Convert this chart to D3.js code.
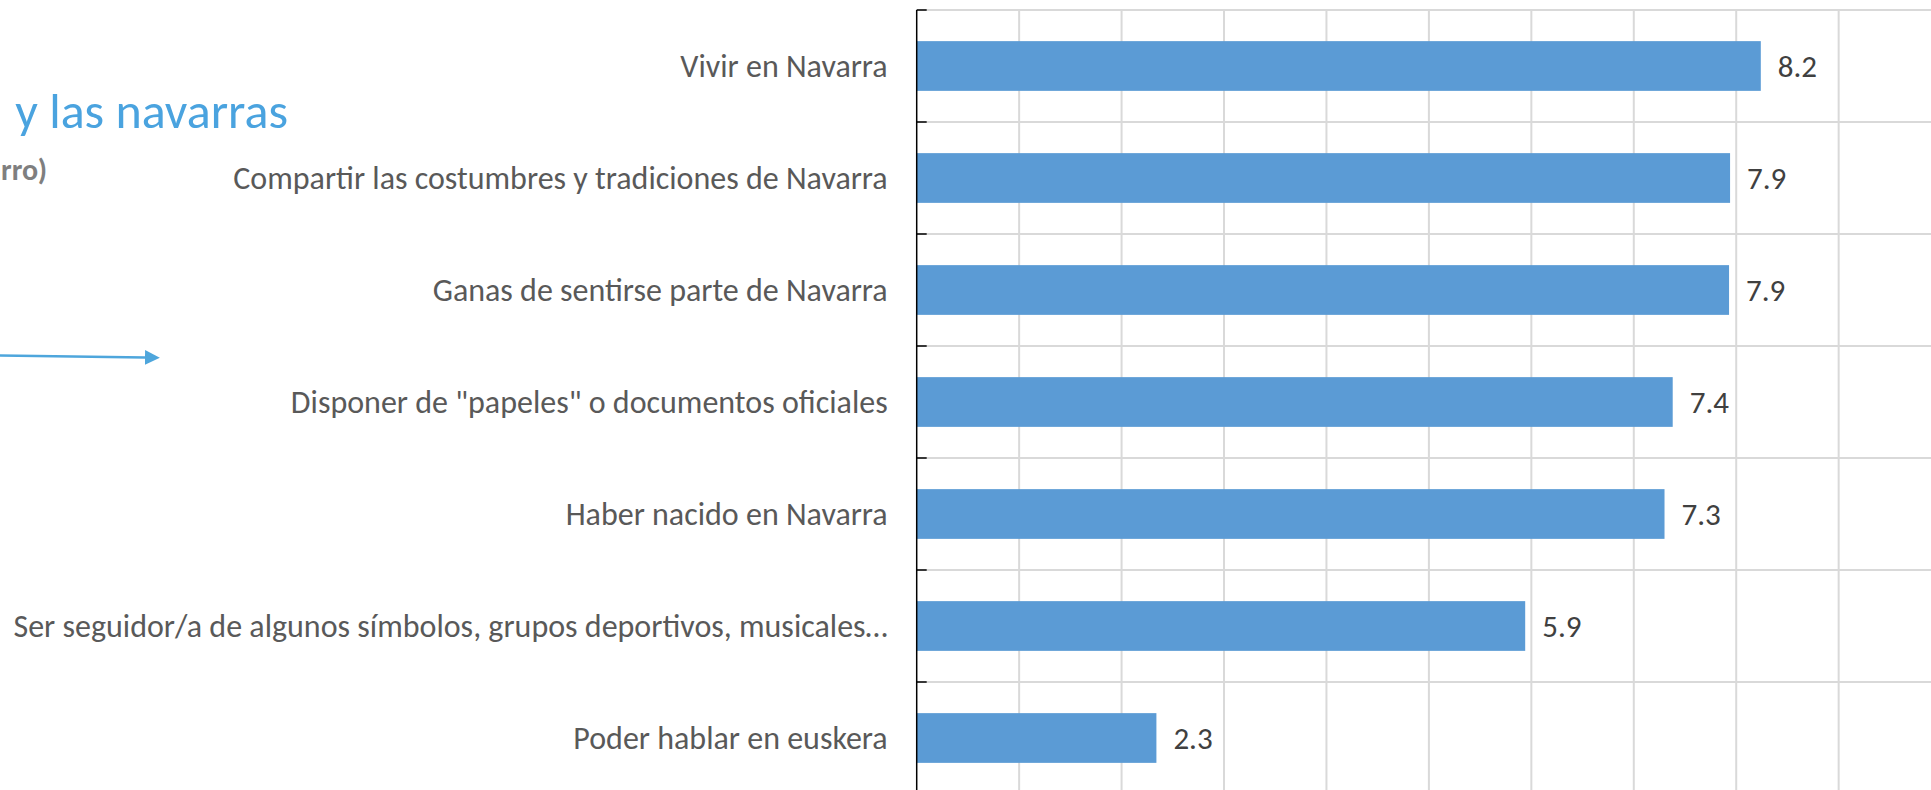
<!DOCTYPE html>
<html>
<head>
<meta charset="utf-8">
<script src="https://cdn.jsdelivr.net/npm/d3@7"></script>
<style>
  html, body { margin: 0; padding: 0; background: #fff; }
  svg { display: block; }
</style>
</head>
<body>
<script>
// ---- data ----
const categories = [
  "Vivir en Navarra",
  "Compartir las costumbres y tradiciones de Navarra",
  "Ganas de sentirse parte de Navarra",
  "Disponer de \"papeles\" o documentos oficiales",
  "Haber nacido en Navarra",
  "Ser seguidor/a de algunos símbolos, grupos deportivos, musicales…",
  "Poder hablar en euskera"
];
const values = [8.24, 7.94, 7.93, 7.38, 7.30, 5.94, 2.34];
const xTicks = [0, 1, 2, 3, 4, 5, 6, 7, 8, 9, 10];
const titleText = "y las navarras";
const subtitleText = "arro)";

// ---- layout ----
const W = 1931, H = 790;
const svg = d3.select("body").append("svg").attr("width", W).attr("height", H);
const FONT = "Calibri, Carlito, Lato, 'Open Sans', sans-serif";

const x = d3.scaleLinear().domain([0, 10]).range([916.7, 916.7 + 1024.4]);
const y = d3.scaleBand().domain(categories).range([10, 794])
  .paddingInner(0.556).paddingOuter(0.278);

// vertical gridlines
svg.append("g").selectAll("line").data(xTicks.filter(d => d > 0)).join("line")
  .attr("x1", d => x(d)).attr("x2", d => x(d))
  .attr("y1", y.range()[0]).attr("y2", y.range()[1])
  .attr("stroke", "#d9d9d9").attr("stroke-width", 2);

// horizontal gridlines at category boundaries
const bounds = d3.range(categories.length + 1).map(i => y.range()[0] + i * y.step());
svg.append("g").selectAll("line").data(bounds).join("line")
  .attr("x1", x(0)).attr("x2", x(10))
  .attr("y1", d => d).attr("y2", d => d)
  .attr("stroke", "#d9d9d9").attr("stroke-width", 2);

// bars
svg.append("g").selectAll("rect").data(values).join("rect")
  .attr("x", x(0))
  .attr("y", (d, i) => y(categories[i]))
  .attr("width", d => x(d) - x(0))
  .attr("height", y.bandwidth())
  .attr("fill", "#5b9bd5");

// value axis line + tick marks
const axisG = svg.append("g");
axisG.append("line")
  .attr("x1", x(0)).attr("x2", x(0))
  .attr("y1", y.range()[0]).attr("y2", y.range()[1])
  .attr("stroke", "#000").attr("stroke-width", 1.5);
axisG.selectAll("line.tick").data(bounds).join("line").attr("class", "tick")
  .attr("x1", x(0)).attr("x2", x(0) + 10)
  .attr("y1", d => d).attr("y2", d => d)
  .attr("stroke", "#000").attr("stroke-width", 1.5);

// category labels
svg.append("g").selectAll("text").data(categories).join("text")
  .attr("x", x(0) - 29)
  .attr("y", d => y(d) + y.bandwidth() / 2)
  .attr("dy", "0.35em")
  .attr("text-anchor", "end")
  .attr("font-family", FONT)
  .attr("font-size", 32)
  .attr("fill", "#595959")
  .text(d => d);

// value labels
const fmt = d3.format(".1f");
svg.append("g").selectAll("text").data(values).join("text")
  .attr("x", d => x(d) + 17)
  .attr("y", (d, i) => y(categories[i]) + y.bandwidth() / 2)
  .attr("dy", "0.35em")
  .attr("font-family", FONT)
  .attr("font-size", 31)
  .attr("fill", "#404040")
  .text(d => fmt(d));

// title fragment & subtitle fragment (slide text cut at left edge)
svg.append("text")
  .attr("x", 288).attr("y", 128)
  .attr("text-anchor", "end")
  .attr("font-family", FONT)
  .attr("font-weight", 300)
  .attr("font-size", 50)
  .attr("fill", "#4aa3df")
  .text(titleText);

svg.append("text")
  .attr("x", 47).attr("y", 180)
  .attr("text-anchor", "end")
  .attr("font-family", FONT)
  .attr("font-weight", 600)
  .attr("font-size", 30)
  .attr("fill", "#7f7f7f")
  .text(subtitleText);

// arrow
const defs = svg.append("defs");
defs.append("marker").attr("id", "ah")
  .attr("viewBox", "0 0 10 10").attr("refX", 0).attr("refY", 5)
  .attr("markerWidth", 5.5).attr("markerHeight", 5.5).attr("markerUnits", "strokeWidth")
  .attr("orient", "auto")
  .append("path").attr("d", "M0,0L10,5L0,10Z").attr("fill", "#4ea6dc");
svg.append("line")
  .attr("x1", 0).attr("y1", 355.5).attr("x2", 145).attr("y2", 357.5)
  .attr("stroke", "#4ea6dc").attr("stroke-width", 2.7)
  .attr("marker-end", "url(#ah)");
</script>
</body>
</html>
